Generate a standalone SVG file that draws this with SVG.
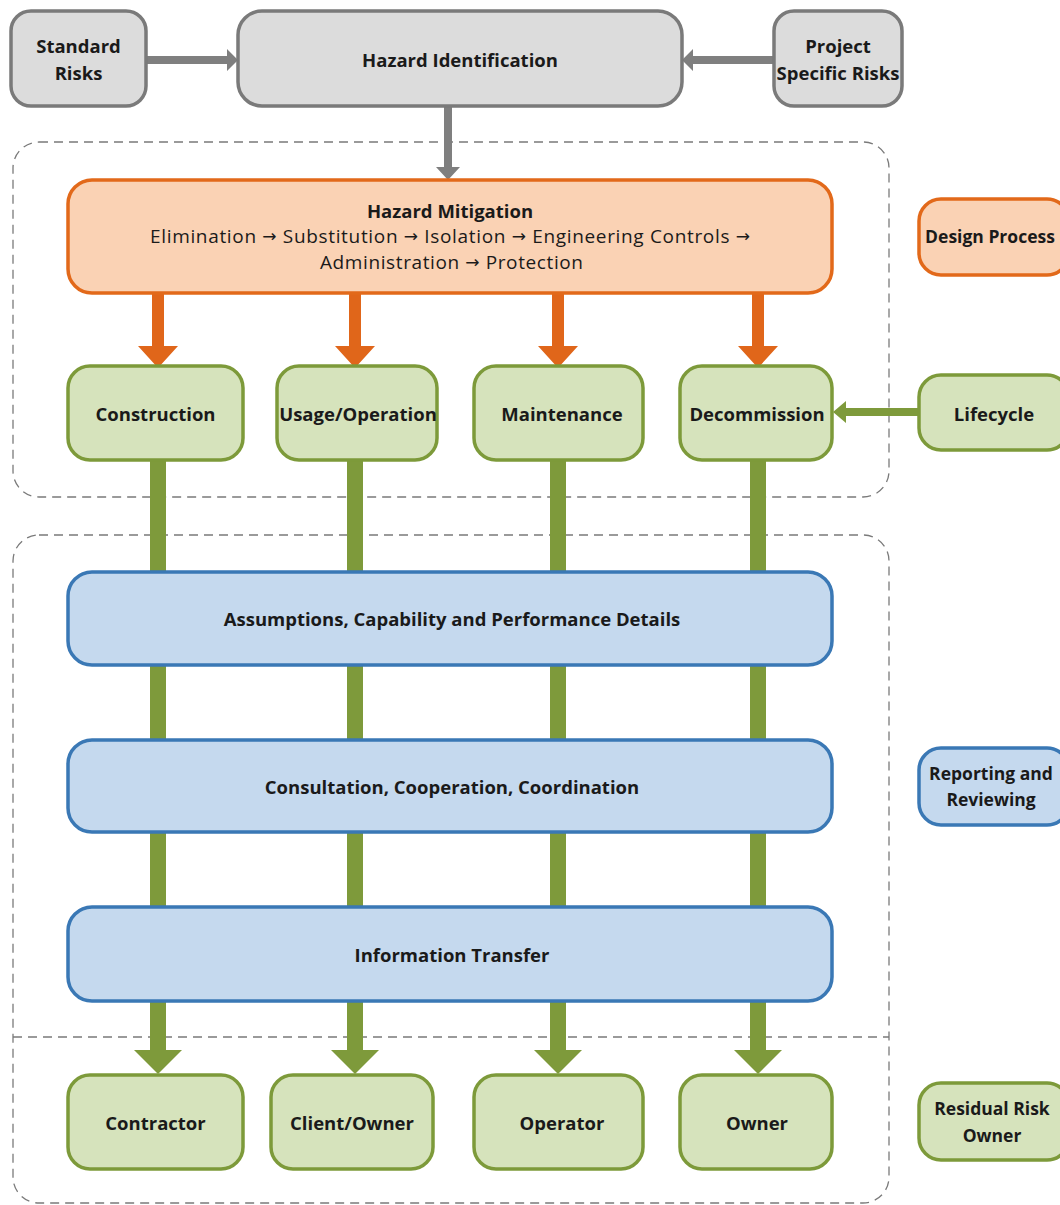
<svg xmlns="http://www.w3.org/2000/svg" width="1060" height="1205" viewBox="0 0 1060 1205">
<style>
text{font-family:"Open Sans","Liberation Sans",Arial,sans-serif;font-size:18.5px;fill:#1a1a1a;text-anchor:middle;dominant-baseline:central}
.b{font-weight:bold}
.r{font-size:19px}
.s{font-size:17.5px}
.arr{font-family:"DejaVu Sans",sans-serif;font-size:17px}
.grey{fill:#dcdcdc;stroke:#7a7a7a;stroke-width:3.5}
.orange{fill:#fad2b4;stroke:#e2691a;stroke-width:3.5}
.green{fill:#d6e3bc;stroke:#7d9a3a;stroke-width:3.5}
.blue{fill:#c5d9ee;stroke:#3a78b5;stroke-width:3.5}
.cont{fill:none;stroke:#7a7a7a;stroke-width:1.3;stroke-dasharray:9 6}
.ag{fill:#7f7f7f}
.ao{fill:#e0661a}
.agr{fill:#7e9a3b}
</style>
<g id="containers">
<rect class="cont" x="13" y="142" width="876" height="355" rx="26"/>
<rect class="cont" x="13" y="535" width="876" height="668" rx="26"/>
<line class="cont" x1="13" y1="1037" x2="889" y2="1037"/>
</g>
<g id="connectors">
<path class="ag" d="M146 56 H227 V49 L238 60 L227 71 V64 H146 Z"/>
<path class="ag" d="M773 56 H693 V49 L682 60 L693 71 V64 H773 Z"/>
<path class="ag" d="M444 107 V167 H436 L448 180 L460 167 H452 V107 Z"/>
<path class="ao" d="M152 293 V346 H138 L158 368 L178 346 H164 V293 Z"/>
<path class="ao" d="M349 293 V346 H335 L355 368 L375 346 H361 V293 Z"/>
<path class="ao" d="M552 293 V346 H538 L558 368 L578 346 H564 V293 Z"/>
<path class="ao" d="M752 293 V346 H738 L758 368 L778 346 H764 V293 Z"/>
<path class="agr" d="M918 408 H846 V401 L833 412 L846 423 V416 H918 Z"/>
<path class="agr" d="M150 460 V1050 H134 L158 1074 L182 1050 H166 V460 Z"/>
<path class="agr" d="M347 460 V1050 H331 L355 1074 L379 1050 H363 V460 Z"/>
<path class="agr" d="M550 460 V1050 H534 L558 1074 L582 1050 H566 V460 Z"/>
<path class="agr" d="M750 460 V1050 H734 L758 1074 L782 1050 H766 V460 Z"/>
</g>
<g id="standard-risks"><rect class="grey" x="11" y="11" width="135" height="95" rx="20"/><text class="b" x="78.5" y="45">Standard</text><text class="b" x="78.5" y="72">Risks</text></g>
<g id="hazard-identification"><rect class="grey" x="238" y="11" width="444" height="95" rx="24"/><text class="b" x="460" y="59">Hazard Identification</text></g>
<g id="project-specific-risks"><rect class="grey" x="774" y="11" width="128" height="95" rx="20"/><text class="b" x="838" y="45">Project</text><text class="b" x="838" y="72">Specific Risks</text></g>
<g id="hazard-mitigation"><rect class="orange" x="68" y="180" width="764" height="113" rx="24"/><text class="b" x="450" y="210">Hazard Mitigation</text><text class="r" x="150" y="236" style="text-anchor:start" textLength="600" lengthAdjust="spacing">Elimination <tspan class="arr">→</tspan> Substitution <tspan class="arr">→</tspan> Isolation <tspan class="arr">→</tspan> Engineering Controls <tspan class="arr">→</tspan></text><text class="r" x="320" y="262" style="text-anchor:start" textLength="263" lengthAdjust="spacing">Administration <tspan class="arr">→</tspan> Protection</text></g>
<g id="design-process"><rect class="orange" x="919" y="199" width="150" height="76" rx="22"/><text class="b s" x="990" y="236">Design Process</text></g>
<g id="construction"><rect class="green" x="68" y="366" width="175" height="94" rx="22"/><text class="b" x="155.5" y="413">Construction</text></g>
<g id="usage-operation"><rect class="green" x="277" y="366" width="160" height="94" rx="22"/><text class="b" x="358" y="413">Usage/Operation</text></g>
<g id="maintenance"><rect class="green" x="474" y="366" width="169" height="94" rx="22"/><text class="b" x="562" y="413">Maintenance</text></g>
<g id="decommission"><rect class="green" x="680" y="366" width="152" height="94" rx="22"/><text class="b" x="757" y="413">Decommission</text></g>
<g id="lifecycle"><rect class="green" x="919" y="375" width="150" height="75" rx="22"/><text class="b" x="994" y="413">Lifecycle</text></g>
<g id="assumptions"><rect class="blue" x="68" y="572" width="764" height="93" rx="24"/><text class="b" x="452" y="618">Assumptions, Capability and Performance Details</text></g>
<g id="consultation"><rect class="blue" x="68" y="740" width="764" height="92" rx="24"/><text class="b" x="452" y="786">Consultation, Cooperation, Coordination</text></g>
<g id="information-transfer"><rect class="blue" x="68" y="907" width="764" height="94" rx="24"/><text class="b" x="452" y="954">Information Transfer</text></g>
<g id="reporting-reviewing"><rect class="blue" x="919" y="748" width="150" height="77" rx="22"/><text class="b s" x="991" y="773">Reporting and</text><text class="b s" x="991" y="799">Reviewing</text></g>
<g id="contractor"><rect class="green" x="68" y="1075" width="175" height="94" rx="22"/><text class="b" x="155.5" y="1122">Contractor</text></g>
<g id="client-owner"><rect class="green" x="271" y="1075" width="162" height="94" rx="22"/><text class="b" x="352" y="1122">Client/Owner</text></g>
<g id="operator"><rect class="green" x="474" y="1075" width="169" height="94" rx="22"/><text class="b" x="562" y="1122">Operator</text></g>
<g id="owner"><rect class="green" x="680" y="1075" width="152" height="94" rx="22"/><text class="b" x="757" y="1122">Owner</text></g>
<g id="residual-risk-owner"><rect class="green" x="919" y="1083" width="150" height="77" rx="22"/><text class="b s" x="992" y="1108">Residual Risk</text><text class="b s" x="992" y="1135">Owner</text></g>
</svg>
